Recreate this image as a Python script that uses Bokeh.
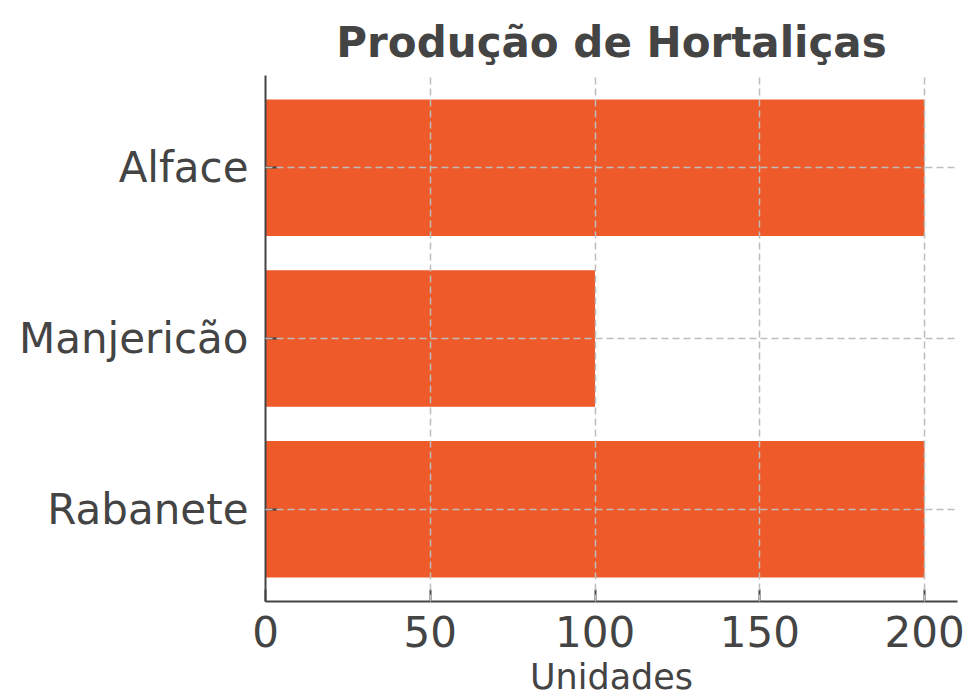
from bokeh.plotting import figure
from bokeh.models import FactorRange, Range1d, FixedTicker
from bokeh.embed import file_html
from bokeh.resources import INLINE

categories = ["Rabanete", "Manjericão", "Alface"]
values = [200, 100, 200]
x_ticks = [0, 50, 100, 150, 200]
title = "Produção de Hortaliças"
x_label = "Unidades"

TEXT = "#444444"
FONT = "DejaVu Sans"

p = figure(
    width=969, height=699,
    y_range=FactorRange(factors=categories, range_padding=0.04, range_padding_units="absolute"),
    x_range=Range1d(0, 210),
    output_backend="svg", toolbar_location=None,
    min_border_left=265, min_border_right=12, min_border_bottom=98, min_border_top=75,
    title=title,
)

p.hbar(y=categories, left=0, right=values, height=0.8, color="#EE5A29", line_color=None)

p.title.text_font = FONT
p.title.text_font_size = "42px"
p.title.text_font_style = "bold"
p.title.text_color = TEXT
p.title.align = "center"
p.title.standoff = 18

p.outline_line_color = None

for ax in (p.xaxis, p.yaxis):
    ax.axis_line_color = "#444444"
    ax.axis_line_width = 2
    ax.major_tick_line_color = "#444444"
    ax.major_tick_line_width = 2
    ax.major_tick_in = 12
    ax.major_tick_out = 0
    ax.minor_tick_line_color = None
    ax.major_label_text_font = FONT
    ax.major_label_text_font_size = "42px"
    ax.major_label_text_color = TEXT
    ax.major_label_standoff = 14

p.yaxis.major_label_standoff = 17
p.xaxis.ticker = FixedTicker(ticks=x_ticks)
p.xaxis.axis_label = x_label
p.xaxis.axis_label_text_font = FONT
p.xaxis.axis_label_text_font_size = "35px"
p.xaxis.axis_label_text_font_style = "normal"
p.xaxis.axis_label_text_color = TEXT
p.xaxis.axis_label_standoff = 7

for g in (p.xgrid, p.ygrid):
    g.grid_line_color = "#bdbdbd"
    g.grid_line_width = 1.5
    g.grid_line_dash = "7 4"
    g.level = "overlay"

open("out.html", "w").write(file_html(p, INLINE))
